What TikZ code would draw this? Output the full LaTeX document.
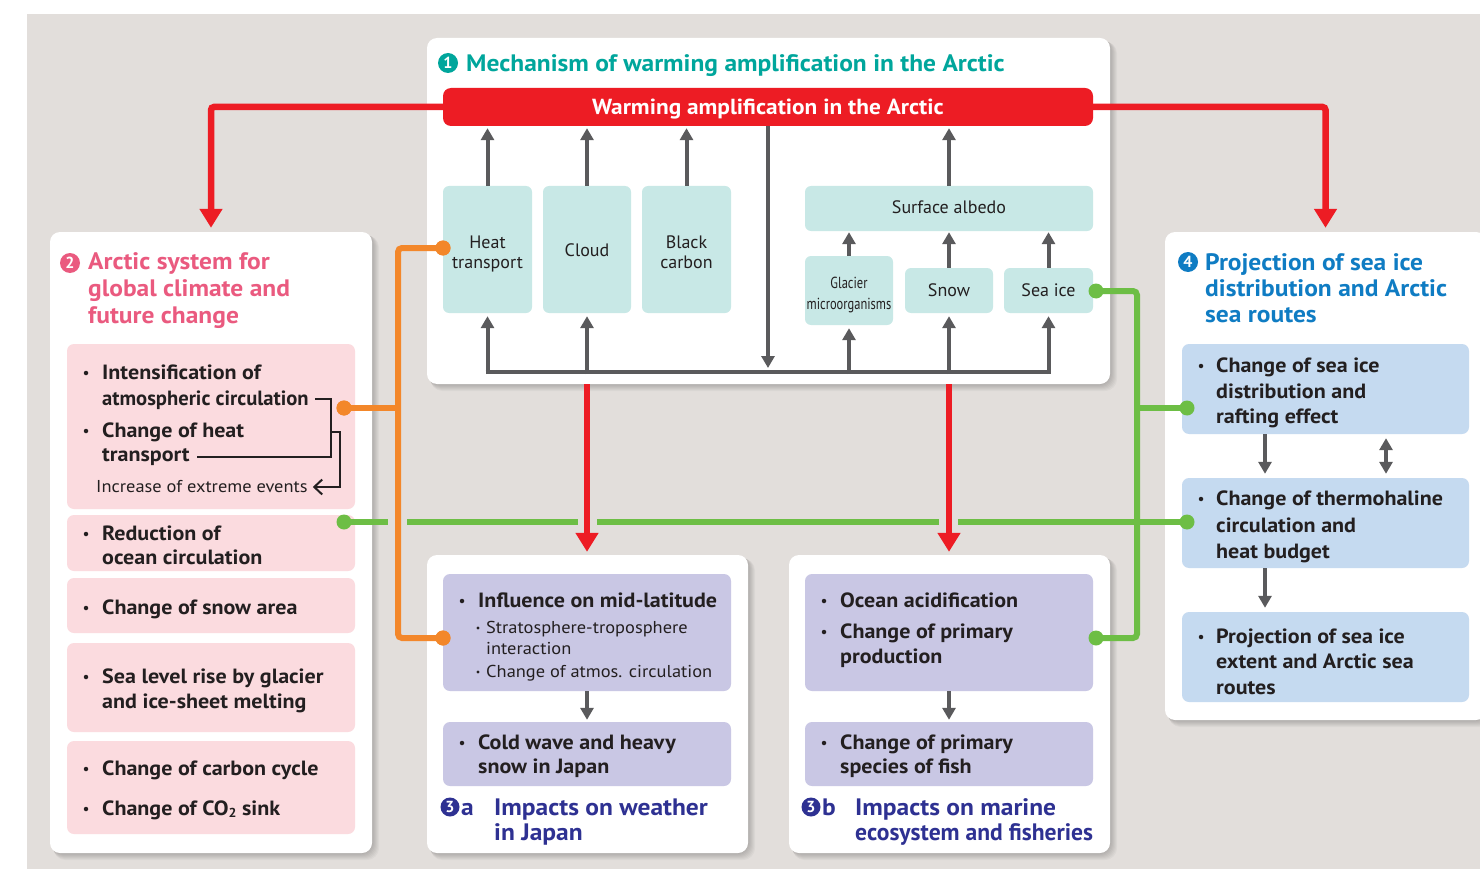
\documentclass[tikz,border=0pt]{standalone}
\usepackage{fontspec}
\setmainfont{PT Sans}
\newfontfamily\condfont[FakeStretch=0.78]{PT Sans}
\newfontfamily\widefont[FakeStretch=1.07]{PT Sans}
\newfontfamily\narrowttl[FakeStretch=0.99]{PT Sans}
\usetikzlibrary{arrows.meta}
\definecolor{bgc}{HTML}{E2DEDB}
\definecolor{redc}{HTML}{ED1C24}
\definecolor{tealt}{HTML}{00A69C}
\definecolor{tealbox}{HTML}{C8E8E6}
\definecolor{greyc}{HTML}{5A5A5C}
\definecolor{pinkt}{HTML}{EA5A7F}
\definecolor{pinkbox}{HTML}{FBDBDF}
\definecolor{bluet}{HTML}{0F7CC3}
\definecolor{bluebox}{HTML}{C5DAF0}
\definecolor{purplebox}{HTML}{C9C7E4}
\definecolor{indigo}{HTML}{2E3192}
\definecolor{orangec}{HTML}{F3872A}
\definecolor{greenc}{HTML}{6DBE45}
\definecolor{txt}{HTML}{231F20}
\newcommand{\mkbox}[6]{%
 \pgfmathsetmacro\bxcx{(#3+#5)/2}%
 \pgfmathsetmacro\bxcy{(#4+#6)/2}%
 \pgfmathsetmacro\bxw{#5-#3}%
 \pgfmathsetmacro\bxh{#6-#4}%
 \node[#1,minimum width=\bxw pt,minimum height=\bxh pt] (#2) at (\bxcx,\bxcy) {};}
\newcommand{\softshadow}[4]{\foreach \s in {1,...,7}{\fill[black,opacity=0.03,rounded corners=12pt] (#1+0.5*\s,#2+0.5*\s) rectangle (#3+\s,#4+\s);}}
\newcommand{\txl}[5][body]{\node[#1,anchor=base west] (#2) at (#3,#4) {#5};}
\newcommand{\bul}[3]{\node[bult] (#1) at (#2,#3-6) {};}
\newcommand{\sbul}[3]{\node[bult,minimum size=3.2pt] (#1) at (#2,#3-5) {};}
\begin{document}
\begin{tikzpicture}[x=1pt,y=-1pt,
 panel/.style={fill=white, rounded corners=10pt, inner sep=0pt},
 tbox/.style={fill=tealbox, rounded corners=6pt, inner sep=0pt},
 pbox/.style={fill=pinkbox, rounded corners=7pt, inner sep=0pt},
 bbox/.style={fill=bluebox, rounded corners=7pt, inner sep=0pt},
 ubox/.style={fill=purplebox, rounded corners=7pt, inner sep=0pt},
 redbar/.style={fill=redc, rounded corners=8pt, inner sep=0pt},
 body/.style={font=\widefont\bfseries\fontsize{20.6}{25}\selectfont, text=txt, inner sep=0pt},
 bodyn/.style={font=\bfseries\fontsize{20.6}{25}\selectfont, text=txt, inner sep=0pt},
 small/.style={font=\widefont\fontsize{17.2}{20}\selectfont, text=txt, inner sep=0pt},
 lbl/.style={font=\fontsize{18}{20}\selectfont, text=txt, inner sep=0pt, anchor=base},
 ttl/.style={font=\widefont\bfseries\fontsize{23.8}{27}\selectfont, inner sep=0pt, anchor=base west},
 garrow/.style={draw=greyc, line width=4pt, -{Triangle[length=12pt,width=13pt]}},
 gbus/.style={draw=greyc, line width=4pt},
 redarrow/.style={draw=redc, line width=6.5pt, rounded corners=3pt, -{Triangle[length=19pt,width=22pt]}},
 oline/.style={draw=orangec, line width=6pt, rounded corners=4pt},
 grline/.style={draw=greenc, line width=6pt, rounded corners=4pt},
 bline/.style={draw=txt, line width=2pt},
 dot/.style={circle, inner sep=0pt, minimum size=15pt},
 bult/.style={circle, fill=txt, inner sep=0pt, minimum size=4.5pt},
 num/.style={circle, inner sep=0pt, minimum size=20pt, text=white, font=\bfseries\fontsize{16}{16}\selectfont},
]
\useasboundingbox (0,0) rectangle (1480,869);
\clip (0,0) rectangle (1480,869);
\fill[bgc] (27,14) rectangle (1480,869);

% shadows
\softshadow{427}{38}{1110}{384}
\softshadow{50}{232}{372}{853}
\softshadow{427}{555}{748}{853}
\softshadow{789}{555}{1110}{853}
\softshadow{1165}{232}{1486}{720}

% panels
\mkbox{panel}{p1}{427}{38}{1110}{384}
\mkbox{panel}{p2}{50}{232}{372}{853}
\mkbox{panel}{p3a}{427}{555}{748}{853}
\mkbox{panel}{p3b}{789}{555}{1110}{853}
\mkbox{panel}{p4}{1165}{232}{1486}{720}

% ---------- panel 1
\node[num, fill=tealt] (n1) at (448,63) {1};
\txl[ttl, text=tealt]{t1}{466}{72}{Mechanism of warming amplification in the Arctic}
\mkbox{redbar}{bar}{443}{88}{1093}{126}
\node[font=\widefont\bfseries\fontsize{21.8}{22}\selectfont, text=white, inner sep=0pt, anchor=base] (bart) at (768,115) {Warming amplification in the Arctic};

\mkbox{tbox}{heat}{443}{186}{532}{313}
\mkbox{tbox}{cloud}{543}{186}{631}{313}
\mkbox{tbox}{bc}{642}{186}{731}{313}
\mkbox{tbox}{sa}{805}{186}{1093}{231}
\mkbox{tbox}{glac}{805}{256}{893}{325}
\mkbox{tbox}{snow}{905}{268}{993}{313}
\mkbox{tbox}{seaice}{1004}{268}{1093}{313}

\node[lbl] (heatt1) at (487.5,248) {Heat};
\node[lbl] (heatt2) at (487.5,268) {transport};
\node[lbl] (cloudt) at (587,256) {Cloud};
\node[lbl] (bct1) at (686.5,248) {Black};
\node[lbl] (bct2) at (686.5,268) {carbon};
\node[lbl] (sat) at (949,214) {Surface albedo};
\node[lbl, font=\condfont\fontsize{16}{18}\selectfont] (glact1) at (849,288) {Glacier};
\node[lbl, font=\condfont\fontsize{16}{18}\selectfont] (glact2) at (849,309) {microorganisms};
\node[lbl] (snowt) at (949,296) {Snow};
\node[lbl] (seaicet) at (1048.5,296) {Sea ice};

\draw[garrow, shorten >=2pt] (heat.north) -- (heat.north |- bar.south);
\draw[garrow, shorten >=2pt] (cloud.north) -- (cloud.north |- bar.south);
\draw[garrow, shorten >=2pt] (bc.north) -- (bc.north |- bar.south);
\draw[garrow, shorten >=2pt] (sa.north) -- (sa.north |- bar.south);
\draw[garrow, shorten >=1pt] (glac.north) -- (glac.north |- sa.south);
\draw[garrow, shorten >=1pt] (snow.north) -- (snow.north |- sa.south);
\draw[garrow, shorten >=1pt] (seaice.north) -- (seaice.north |- sa.south);
\coordinate (busy) at (0,372);
\coordinate (busyb) at (0,374);
\draw[gbus] ([xshift=-2pt]heat.south |- busy) -- ([xshift=2pt]seaice.south |- busy);
\draw[garrow, shorten >=3pt] (heat.south |- busyb) -- (heat.south);
\draw[garrow, shorten >=3pt] (cloud.south |- busyb) -- (cloud.south);
\draw[garrow, shorten >=3pt] (glac.south |- busyb) -- (glac.south);
\draw[garrow, shorten >=3pt] (snow.south |- busyb) -- (snow.south);
\draw[garrow, shorten >=3pt] (seaice.south |- busyb) -- (seaice.south);
\draw[garrow, shorten >=4pt] (bar.south) -- (bar.south |- busy);

% ---------- panel 2
\node[num, fill=pinkt] (n2) at (70,263) {2};
\txl[ttl, text=pinkt]{t2a}{88}{269}{Arctic system for}
\txl[ttl, text=pinkt]{t2b}{88}{296}{global climate and}
\txl[ttl, text=pinkt]{t2c}{88}{323}{future change}
\mkbox{pbox}{pA}{67}{344}{355}{509}
\mkbox{pbox}{pB}{67}{515}{355}{571}
\mkbox{pbox}{pC}{67}{578}{355}{633}
\mkbox{pbox}{pD}{67}{643}{355}{732}
\mkbox{pbox}{pE}{67}{741}{355}{834}
\bul{ba1}{86}{379}\txl{a1}{102}{379}{Intensification of}
\txl[bodyn]{a2}{102}{405}{atmospheric circulation}
\bul{ba3}{86}{437}\txl{a3}{102}{437}{Change of heat}
\txl{a4}{102}{461}{transport}
\txl[small]{a5}{96}{492}{Increase of extreme events}
\coordinate (bx1) at (331,0);
\coordinate (bx2) at (340,0);
\draw[bline] ([xshift=6pt,yshift=6pt]a2.base east) -| (bx1 |- 0,457) -- ([xshift=7pt]a4.base east |- 0,457);
\draw[bline, -{Straight Barb[length=8pt,width=15pt]}] (bx1 |- 0,432) -| (bx2 |- 0,487) -- ([xshift=5pt]a5.base east |- 0,487);
\bul{bb1}{86}{540}\txl{b1}{102}{540}{Reduction of}
\txl{b2}{102}{564}{ocean circulation}
\bul{bc1}{86}{614}\txl{c1}{102}{614}{Change of snow area}
\bul{bd1}{86}{683}\txl{d1}{102}{683}{Sea level rise by glacier}
\txl{d2}{102}{708}{and ice-sheet melting}
\bul{be1}{86}{775}\txl{e1}{102}{775}{Change of carbon cycle}
\bul{be2}{86}{815}\txl{e2}{102}{815}{Change of CO\raisebox{-0.12em}{\fontsize{13}{13}\selectfont 2} sink}

% ---------- panel 3a
\mkbox{ubox}{m1}{443}{574}{731}{691}
\mkbox{ubox}{m2}{443}{722}{731}{786}
\bul{bm1}{462}{607}\txl{m1a}{478}{607}{Influence on mid-latitude}
\sbul{bm2}{478}{633}\txl[small]{m1b}{486}{633}{Stratosphere-troposphere}
\txl[small]{m1c}{486}{654}{interaction}
\sbul{bm3}{478}{677}\txl[small]{m1d}{486}{677}{Change of atmos. circulation}
\bul{bm4}{462}{749}\txl{m2a}{478}{749}{Cold wave and heavy}
\txl{m2b}{478}{773}{snow in Japan}
\draw[garrow, shorten >=2pt] (m1.south) -- (m2.north);
\node[num, fill=indigo, minimum size=19pt] (n3a) at (450,807) {3};
\txl[ttl, text=indigo]{t3aa}{461}{815}{a}
\txl[ttl, text=indigo]{t3a1}{494}{815}{Impacts on weather}
\txl[ttl, text=indigo]{t3a2}{494}{840}{in Japan}

% ---------- panel 3b
\mkbox{ubox}{o1}{805}{574}{1093}{691}
\mkbox{ubox}{o2}{805}{722}{1093}{786}
\bul{bo1}{824}{607}\txl{o1a}{840}{607}{Ocean acidification}
\bul{bo2}{824}{638}\txl{o1b}{840}{638}{Change of primary}
\txl{o1c}{840}{663}{production}
\bul{bo3}{824}{749}\txl{o2a}{840}{749}{Change of primary}
\txl{o2b}{840}{773}{species of fish}
\draw[garrow, shorten >=2pt] (o1.south) -- (o2.north);
\node[num, fill=indigo, minimum size=19pt] (n3b) at (811,807) {3};
\txl[ttl, text=indigo]{t3bb}{822}{815}{b}
\txl[ttl, text=indigo]{t3b1}{855}{815}{Impacts on marine}
\txl[ttl, text=indigo, font=\narrowttl\bfseries\fontsize{23.8}{27}\selectfont]{t3b2}{855}{840}{ecosystem and fisheries}

% ---------- panel 4
\node[num, fill=bluet] (n4) at (1188,262) {4};
\txl[ttl, text=bluet]{t4a}{1205}{270}{Projection of sea ice}
\txl[ttl, text=bluet]{t4b}{1205}{296}{distribution and Arctic}
\txl[ttl, text=bluet]{t4c}{1205}{322}{sea routes}
\mkbox{bbox}{q1}{1182}{344}{1469}{434}
\mkbox{bbox}{q2}{1182}{478}{1469}{568}
\mkbox{bbox}{q3}{1182}{612}{1469}{702}
\bul{bq1}{1201}{372}\txl{q1a}{1216}{372}{Change of sea ice}
\txl{q1b}{1216}{398}{distribution and}
\txl{q1c}{1216}{423}{rafting effect}
\bul{bq2}{1201}{505}\txl{q2a}{1216}{505}{Change of thermohaline}
\txl{q2b}{1216}{532}{circulation and}
\txl{q2c}{1216}{558}{heat budget}
\bul{bq3}{1201}{643}\txl{q3a}{1216}{643}{Projection of sea ice}
\txl{q3b}{1216}{668}{extent and Arctic sea}
\txl{q3c}{1216}{694}{routes}
\coordinate (xa) at (1265,0);
\coordinate (xb) at (1386,0);
\draw[garrow, shorten >=4pt] (q1.south -| xa) -- (q2.north -| xa);
\draw[garrow, shorten >=4pt] (q2.south -| xa) -- (q3.north -| xa);
\draw[garrow, {Triangle[length=12pt,width=13pt]}-{Triangle[length=12pt,width=13pt]}, shorten >=4pt, shorten <=4pt] (q1.south -| xb) -- (q2.north -| xb);

% ---------- red connectors
\draw[redarrow, shorten >=4pt] (bar.west) -| (p2.north);
\draw[redarrow, shorten >=4pt] (bar.east) -| (p4.north);

% ---------- green connectors
\node[dot, fill=greenc] (gB) at (344,522) {};
\node[dot, fill=greenc] (gQ2) at (1187,522) {};
\node[dot, fill=greenc] (gQ1) at (1187,408) {};
\node[dot, fill=greenc] (gSea) at (1096,291) {};
\node[dot, fill=greenc] (gOc) at (1096,638) {};
\coordinate (gx) at (1137,0);
\draw[grline] (gB.center) -- (gQ2.center);
\draw[grline] (gSea.center) -- (gSea -| gx) -- (gOc -| gx) -- (gOc.center);
\draw[grline] (gQ1 -| gx) -- (gQ1.center);
\fill[bgc] (388,515) rectangle (407,529);
\fill[bgc] (578,515) rectangle (597,529);
\fill[bgc] (939,515) rectangle (958,529);

% ---------- orange connectors
\node[dot, fill=orangec] (oA) at (344,408) {};
\node[dot, fill=orangec] (oH) at (443,248) {};
\node[dot, fill=orangec] (oM) at (443,638) {};
\coordinate (ox) at (398,0);
\draw[oline] (oH.center) -- (oH -| ox) -- (oM -| ox) -- (oM.center);
\draw[oline] (oA.center) -- (oA -| ox);
\node[dot, fill=orangec] at (oA) {};
\node[dot, fill=orangec] at (oH) {};
\node[dot, fill=orangec] at (oM) {};

% ---------- red down arrows
\draw[redarrow, shorten >=3pt] (cloud.south |- p1.south) -- (cloud.south |- p3a.north);
\draw[redarrow, shorten >=3pt] (snow.south |- p1.south) -- (snow.south |- p3b.north);
\end{tikzpicture}
\end{document}
